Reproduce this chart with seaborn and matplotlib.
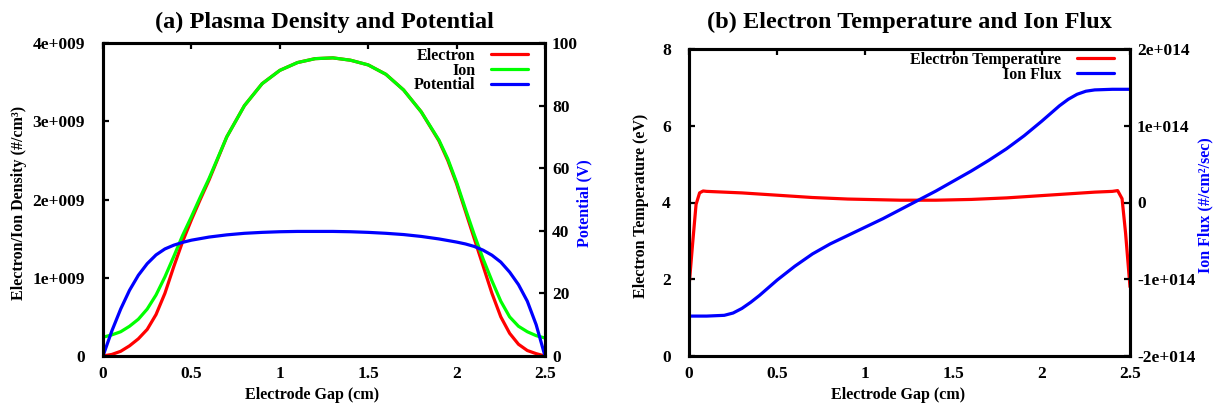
import numpy as np
import pandas as pd
import matplotlib
matplotlib.use("Agg")
import matplotlib.pyplot as plt
import seaborn as sns

# ---------------- data ----------------
gap_a = [0.0, 0.05, 0.1, 0.15, 0.2, 0.25, 0.3, 0.35, 0.4, 0.45, 0.5, 0.55, 0.6,
         0.7, 0.8, 0.9, 1.0, 1.1, 1.2, 1.3, 1.4, 1.5, 1.6, 1.7, 1.8, 1.9, 1.95,
         2.0, 2.05, 2.1, 2.15, 2.2, 2.25, 2.3, 2.35, 2.4, 2.45, 2.5]
electron_density_e9 = [0.0, 0.02, 0.06, 0.13, 0.22, 0.34, 0.53, 0.8, 1.14, 1.46, 1.74, 2.0, 2.25,
                       2.8, 3.2, 3.48, 3.65, 3.75, 3.8, 3.81, 3.78, 3.72, 3.6, 3.4, 3.12, 2.75, 2.5,
                       2.2, 1.85, 1.5, 1.15, 0.8, 0.5, 0.29, 0.15, 0.07, 0.03, 0.0]
ion_density_e9 = [0.24, 0.27, 0.31, 0.38, 0.47, 0.6, 0.78, 1.01, 1.27, 1.54, 1.78, 2.03, 2.27,
                  2.8, 3.2, 3.48, 3.65, 3.75, 3.8, 3.81, 3.78, 3.72, 3.6, 3.4, 3.12, 2.76, 2.52,
                  2.22, 1.88, 1.55, 1.24, 0.96, 0.7, 0.5, 0.38, 0.31, 0.26, 0.23]
potential_v = [0.0, 8.0, 15.0, 21.0, 25.8, 29.5, 32.3, 34.2, 35.4, 36.3, 37.0, 37.5, 38.0,
               38.7, 39.2, 39.5, 39.7, 39.8, 39.8, 39.8, 39.7, 39.5, 39.2, 38.8, 38.2, 37.4, 36.9,
               36.4, 35.8, 35.0, 33.8, 32.2, 30.0, 26.8, 22.8, 17.5, 10.0, 0.0]

gap_temp = [0.0, 0.02, 0.04, 0.06, 0.08, 0.1, 0.2, 0.3, 0.4, 0.5, 0.6, 0.7, 0.8, 0.9, 1.0,
            1.1, 1.2, 1.3, 1.4, 1.5, 1.6, 1.7, 1.8, 1.9, 2.0, 2.1, 2.2, 2.3, 2.4, 2.43,
            2.455, 2.475, 2.5]
electron_temp_ev = [1.8, 2.9, 3.95, 4.25, 4.3, 4.29, 4.27, 4.25, 4.22, 4.19, 4.16, 4.13, 4.11,
                    4.09, 4.08, 4.07, 4.06, 4.06, 4.06, 4.07, 4.08, 4.1, 4.12, 4.15, 4.18, 4.21,
                    4.24, 4.27, 4.29, 4.31, 4.1, 3.2, 1.8]

gap_flux = [0.0, 0.1, 0.2, 0.25, 0.3, 0.35, 0.4, 0.5, 0.6, 0.7, 0.8, 0.9, 1.0, 1.1, 1.2, 1.3,
            1.4, 1.5, 1.6, 1.7, 1.8, 1.9, 2.0, 2.05, 2.1, 2.15, 2.2, 2.25, 2.3, 2.4, 2.5]
ion_flux_e14 = [-1.48, -1.48, -1.47, -1.44, -1.38, -1.3, -1.21, -1.01, -0.83, -0.67, -0.54, -0.43,
                -0.32, -0.21, -0.09, 0.03, 0.15, 0.28, 0.41, 0.55, 0.7, 0.87, 1.06, 1.16, 1.26,
                1.345, 1.41, 1.45, 1.467, 1.475, 1.475]

x_ticks = [0, 0.5, 1, 1.5, 2, 2.5]
x_ticklabels = ["0", "0.5", "1", "1.5", "2", "2.5"]
dens_ticks = [0, 1e9, 2e9, 3e9, 4e9]
dens_ticklabels = ["0", "1e+009", "2e+009", "3e+009", "4e+009"]
pot_ticks = [0, 20, 40, 60, 80, 100]
temp_ticks = [0, 2, 4, 6, 8]
flux_ticks = [-2e14, -1e14, 0, 1e14, 2e14]
flux_ticklabels = ["-2e+014", "-1e+014", "0", "1e+014", "2e+014"]

# ---------------- style ----------------
sns.set_theme(style="white")
plt.rcParams["font.family"] = ["Liberation Serif", "DejaVu Serif"]
plt.rcParams["font.weight"] = "bold"
plt.rcParams["axes.labelweight"] = "bold"
plt.rcParams["axes.titleweight"] = "bold"
for k in ("text.color", "axes.labelcolor", "xtick.color", "ytick.color", "axes.edgecolor"):
    plt.rcParams[k] = "black"

RED, GREEN, BLUE = "#ff0000", "#00ff00", "#0000ff"
LW = 2.3
TICK_FS = 12.5
LAB_FS = 11.5
LEG_FS = 11.5
TITLE_FS = 17.5
W, H = 1220, 407

fig = plt.figure(figsize=(W / 100, H / 100), dpi=100)

def px_axes(l, t, r, b):
    return fig.add_axes([l / W, 1 - b / H, (r - l) / W, (b - t) / H])

def style_axes(ax):
    for s in ax.spines.values():
        s.set_linewidth(2.2)
        s.set_color("black")
    ax.tick_params(direction="in", length=4, width=1.6, colors="black",
                   labelsize=TICK_FS)

# ---------------- panel (a) ----------------
axa = px_axes(103, 43, 545, 356)
df_a = pd.DataFrame({"gap": gap_a,
                     "electron": np.array(electron_density_e9) * 1e9,
                     "ion": np.array(ion_density_e9) * 1e9,
                     "potential": potential_v})
sns.lineplot(data=df_a, x="gap", y="electron", ax=axa, color=RED, lw=LW, label="Electron", sort=False)
sns.lineplot(data=df_a, x="gap", y="ion", ax=axa, color=GREEN, lw=LW, label="Ion", sort=False)
axa2 = axa.twinx()
sns.lineplot(data=df_a, x="gap", y="potential", ax=axa2, color=BLUE, lw=LW, label="Potential", sort=False)

axa.set_xlim(0, 2.5)
axa.set_ylim(0, 4e9)
axa2.set_ylim(0, 100)
axa.set_xticks(x_ticks, x_ticklabels)
axa.set_yticks(dens_ticks, dens_ticklabels)
axa2.set_yticks(pot_ticks, [str(v) for v in pot_ticks])
style_axes(axa); style_axes(axa2)
axa.tick_params(axis="x", top=True, pad=7)
axa.tick_params(axis="y", pad=13)
axa2.tick_params(axis="y", pad=5)
for lab in axa.get_xticklabels() + axa.get_yticklabels() + axa2.get_yticklabels():
    lab.set_fontweight("bold")

axa.set_xlabel("Electrode Gap (cm)", fontsize=LAB_FS, fontweight="bold")
axa.xaxis.set_label_coords(0.473, -0.125)
axa.xaxis.label.set_va("center")
axa.set_ylabel("Electron/Ion Density (#/cm³)", fontsize=LAB_FS, fontweight="bold")
axa.yaxis.set_label_coords(-0.19, 0.49)
axa.yaxis.label.set_va("center")
axa2.set_ylabel("Potential (V)", fontsize=LAB_FS, fontweight="bold", color=BLUE)
axa2.yaxis.set_label_coords(1.09, 0.49)
axa2.yaxis.label.set_va("center")
axa.set_title("(a) Plasma Density and Potential", fontsize=TITLE_FS, fontweight="bold", pad=11)

for a in (axa, axa2):
    if a.get_legend() is not None:
        a.get_legend().remove()
h1, l1 = axa.get_legend_handles_labels()
h2, l2 = axa2.get_legend_handles_labels()
axa2.legend(h1 + h2, l1 + l2, loc="upper right", bbox_to_anchor=(1 - 17 / 442, 1 - 5 / 313),
            frameon=False, markerfirst=False, handlelength=2.3,
            handletextpad=1.0, labelspacing=-0.08, borderpad=0, borderaxespad=0,
            prop={"weight": "bold", "size": LEG_FS})

# ---------------- panel (b) ----------------
axb = px_axes(689, 49, 1130, 356)
df_t = pd.DataFrame({"gap": gap_temp, "temp": electron_temp_ev})
df_f = pd.DataFrame({"gap": gap_flux, "flux": np.array(ion_flux_e14) * 1e14})
sns.lineplot(data=df_t, x="gap", y="temp", ax=axb, color=RED, lw=LW,
             label="Electron Temperature", sort=False)
axb2 = axb.twinx()
sns.lineplot(data=df_f, x="gap", y="flux", ax=axb2, color=BLUE, lw=LW, label="Ion Flux", sort=False)

axb.set_xlim(0, 2.5)
axb.set_ylim(0, 8)
axb2.set_ylim(-2e14, 2e14)
axb.set_xticks(x_ticks, x_ticklabels)
axb.set_yticks(temp_ticks, [str(v) for v in temp_ticks])
axb2.set_yticks(flux_ticks, flux_ticklabels)
style_axes(axb); style_axes(axb2)
axb.tick_params(axis="x", top=True, pad=7)
axb.tick_params(axis="y", pad=13)
axb2.tick_params(axis="y", pad=5)
for lab in axb.get_xticklabels() + axb.get_yticklabels() + axb2.get_yticklabels():
    lab.set_fontweight("bold")

axb.set_xlabel("Electrode Gap (cm)", fontsize=LAB_FS, fontweight="bold")
axb.xaxis.set_label_coords(0.473, -0.127)
axb.xaxis.label.set_va("center")
axb.set_ylabel("Electron Temperature (eV)", fontsize=LAB_FS, fontweight="bold")
axb.yaxis.set_label_coords(-0.109, 0.49)
axb.yaxis.label.set_va("center")
axb2.set_ylabel("Ion Flux (#/cm²/sec)", fontsize=LAB_FS, fontweight="bold", color=BLUE)
axb2.yaxis.set_label_coords(1.17, 0.49)
axb2.yaxis.label.set_va("center")
axb.set_title("(b) Electron Temperature and Ion Flux", fontsize=TITLE_FS, fontweight="bold", pad=15)

for a in (axb, axb2):
    if a.get_legend() is not None:
        a.get_legend().remove()
h1, l1 = axb.get_legend_handles_labels()
h2, l2 = axb2.get_legend_handles_labels()
axb2.legend(h1 + h2, l1 + l2, loc="upper right", bbox_to_anchor=(1 - 16 / 441, 1 - 3 / 307),
            frameon=False, markerfirst=False, handlelength=2.3,
            handletextpad=1.0, labelspacing=-0.08, borderpad=0, borderaxespad=0,
            prop={"weight": "bold", "size": LEG_FS})

fig.savefig("out.png", dpi=100)
